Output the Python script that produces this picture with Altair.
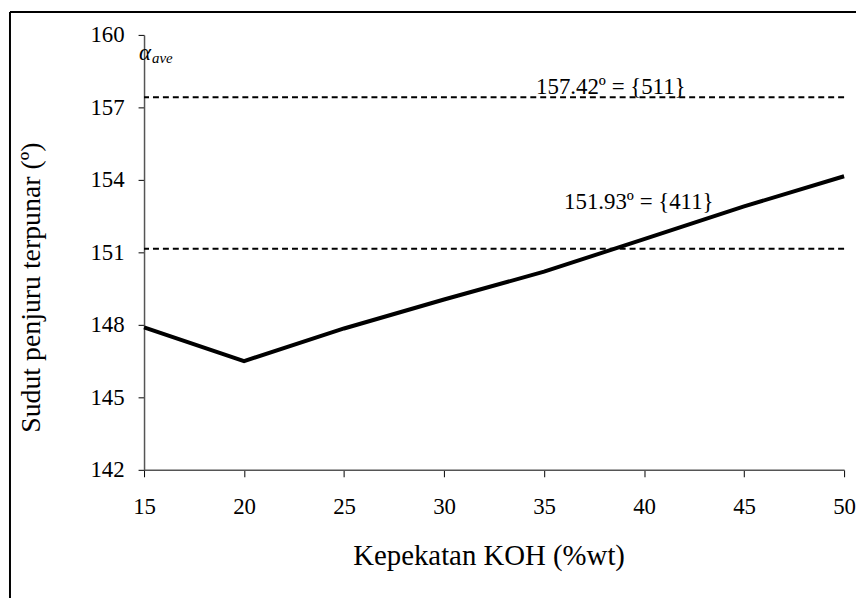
import altair as alt
import pandas as pd

koh = [15, 20, 25, 30, 35, 40, 45, 50]
angle = [147.9, 146.5, 147.85, 149.05, 150.2, 151.55, 152.9, 154.15]
ref_vals = [157.42, 151.15]
ref_labels = ["157.42º = {511}", "151.93º = {411}"]
label_x = [34.6, 36.0]
label_y = [157.42, 152.68]

FONT = "Liberation Serif"

line_df = pd.DataFrame({"koh": koh, "angle": angle})
ref_df = pd.DataFrame({"v": ref_vals})
lab_df = pd.DataFrame({"x": label_x, "y": label_y, "t": ref_labels})

xs = alt.Scale(domain=[15, 50], nice=False, zero=False)
ys = alt.Scale(domain=[142, 160], nice=False, zero=False)

W, H = 705, 438

line = alt.Chart(line_df).mark_line(color="black", strokeWidth=4).encode(
    x=alt.X("koh:Q", scale=xs,
            axis=alt.Axis(title="Kepekatan KOH (%wt)", values=[15, 20, 25, 30, 35, 40, 45, 50],
                          grid=False, tickSize=7, labelPadding=19, labelFont=FONT,
                          titleX=347, titleY=95, titleAlign="center", titleBaseline="alphabetic",
                          titleFontSize=29)),
    y=alt.Y("angle:Q", scale=ys,
            axis=alt.Axis(title="Sudut penjuru terpunar (º)", values=[142, 145, 148, 151, 154, 157, 160],
                          grid=False, tickSize=6, labelPadding=14, labelFont=FONT,
                          titleX=-105, titleY=254, titleAngle=-90, titleAlign="center",
                          titleBaseline="alphabetic", titleFontSize=28)),
)

rules = alt.Chart(ref_df).mark_rule(color="black", strokeWidth=2, strokeDash=[6, 4]).encode(
    y=alt.Y("v:Q", scale=ys)
)

labels = alt.Chart(lab_df).mark_text(font=FONT, fontSize=23, align="left", baseline="alphabetic",
                                     dy=-3, color="black").encode(
    x=alt.X("x:Q", scale=xs), y=alt.Y("y:Q", scale=ys), text="t:N"
)

alpha = alt.Chart(pd.DataFrame({"t": ["α"]})).mark_text(
    font=FONT, fontSize=23, fontStyle="italic", align="left", baseline="alphabetic", color="black"
).encode(x=alt.value(-5), y=alt.value(25), text="t:N")
ave = alt.Chart(pd.DataFrame({"t": ["ave"]})).mark_text(
    font=FONT, fontSize=15, fontStyle="italic", align="left", baseline="alphabetic", color="black"
).encode(x=alt.value(8), y=alt.value(28), text="t:N")

frame_v = alt.Chart(pd.DataFrame({"a": [0]})).mark_rule(color="black", strokeWidth=2).encode(
    x=alt.value(-135), y=alt.value(-23), y2=alt.value(700)
)
frame_h = alt.Chart(pd.DataFrame({"a": [0]})).mark_rule(color="black", strokeWidth=2).encode(
    x=alt.value(-135), x2=alt.value(900), y=alt.value(-23)
)

chart = alt.layer(frame_v, frame_h, rules, line, labels, alpha, ave).properties(
    width=W, height=H,
    autosize=alt.AutoSizeParams(type="none"),
    padding={"left": 137, "top": 25, "right": 12, "bottom": 127},
).configure_view(stroke=None).configure_axis(
    labelFont=FONT, titleFont=FONT, labelFontSize=23, titleFontSize=29,
    labelColor="black", titleColor="black", titleFontWeight="normal",
    domainColor="#555", tickColor="black", domainWidth=1.5, labelFlush=False,
)

chart.save("out.html", embed_options={"renderer": "svg", "actions": False})
